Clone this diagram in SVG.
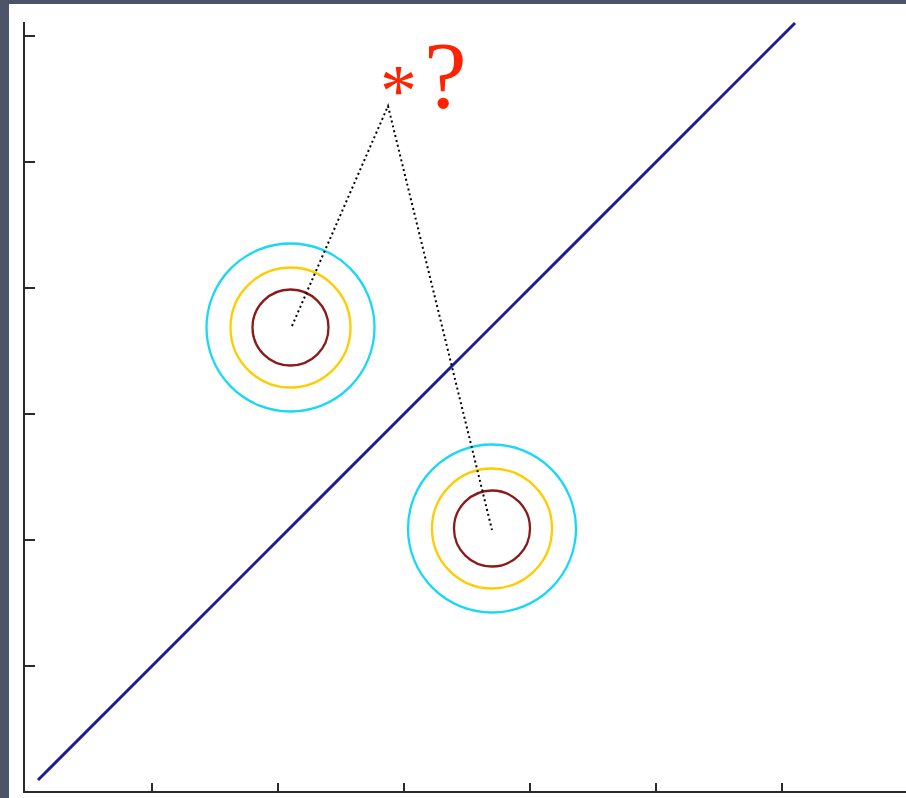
<svg xmlns="http://www.w3.org/2000/svg" width="906" height="798" viewBox="0 0 906 798">
<style>
.ax{stroke:#2a2a2a;stroke-width:2;fill:none}
.c1{fill:none;stroke:#19d8f5;stroke-width:2.3}
.c2{fill:none;stroke:#ffcc00;stroke-width:2.3}
.c3{fill:none;stroke:#8b1a1a;stroke-width:2.3}
.dot{fill:none;stroke:#000;stroke-width:2;stroke-dasharray:2 3}
</style>
<rect x="0" y="0" width="906" height="798" fill="#4e5468"/>
<rect x="9" y="4" width="897" height="794" fill="#ffffff"/>
<g id="axes">
<path class="ax" d="M24 22V792H906"/>
<path class="ax" d="M24 36H35M24 162H35M24 288H35M24 414H35M24 540H35M24 666H35"/>
<path class="ax" d="M152 792V783M278 792V783M404 792V783M530 792V783M656 792V783M782 792V783"/>
</g>
<g id="boundary">
<line x1="38" y1="780" x2="795" y2="23" stroke="#1c1c9c" stroke-width="3"/>
</g>
<g id="class1">
<circle class="c1" cx="290.5" cy="327.5" r="84"/>
<circle class="c2" cx="290.5" cy="327.5" r="60"/>
<circle class="c3" cx="290.5" cy="327.5" r="38"/>
</g>
<g id="class2">
<circle class="c1" cx="492" cy="528.5" r="84"/>
<circle class="c2" cx="492" cy="528.5" r="60"/>
<circle class="c3" cx="492" cy="528.5" r="38"/>
</g>
<g id="connectors">
<polyline class="dot" points="292,326 388,106 492,530"/>
</g>
<g id="query">
<text x="380" y="116" font-family="Liberation Serif, serif" font-size="74" fill="#ff2200">*<tspan dy="-8" dx="7" font-size="96">?</tspan></text>
</g>
</svg>
